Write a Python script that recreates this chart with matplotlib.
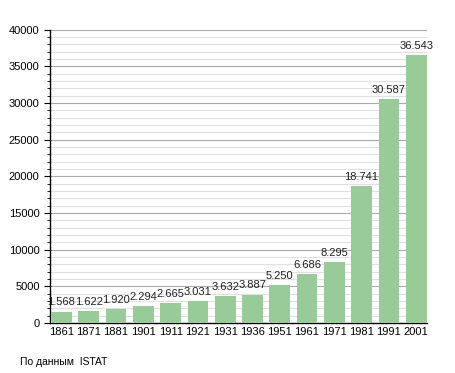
import matplotlib
matplotlib.use("Agg")
import matplotlib.pyplot as plt
from matplotlib.ticker import MultipleLocator

# data
years = ["1861", "1871", "1881", "1901", "1911", "1921", "1931",
         "1936", "1951", "1961", "1971", "1981", "1991", "2001"]
population = [1568, 1622, 1920, 2294, 2665, 3031, 3632,
              3887, 5250, 6686, 8295, 18741, 30587, 36543]
source_text = "По данным  ISTAT"

plt.rcParams['font.family'] = ['Liberation Sans', 'DejaVu Sans']

fig = plt.figure(figsize=(4.55, 3.73), dpi=100)
ax = fig.add_axes([0.110, 0.134, 0.828, 0.786])

x = list(range(len(years)))
bars = ax.bar(x, population, width=0.76, color="#98cb98", zorder=3)

for xi, v in zip(x, population):
    lbl = f"{v:,}".replace(",", ".")
    ax.text(xi, v + 550, lbl, ha="center", va="bottom", fontsize=8, color="#222222", zorder=4)

ax.set_xlim(-0.42, 13.39)
ax.set_ylim(0, 40000)
ax.set_xticks(x)
ax.set_xticklabels(years, fontsize=8)
ax.yaxis.set_major_locator(MultipleLocator(5000))
ax.yaxis.set_minor_locator(MultipleLocator(1000))
ax.tick_params(axis="y", labelsize=8, length=4, width=0.8)
ax.tick_params(axis="y", which="minor", length=2, width=0.6)
ax.tick_params(axis="x", length=0, pad=3)

ax.grid(axis="y", which="major", color="#aaaaaa", linewidth=0.8, zorder=0)
ax.grid(axis="y", which="minor", color="#e0e0e0", linewidth=0.8, zorder=0)

for s in ("top", "right"):
    ax.spines[s].set_visible(False)
ax.spines["left"].set_linewidth(1.0)
ax.spines["bottom"].set_linewidth(1.0)

fig.text(20 / 455, 1 - 362 / 373, source_text, fontsize=7.5, va="center", ha="left")

fig.savefig("out.png", dpi=100)
